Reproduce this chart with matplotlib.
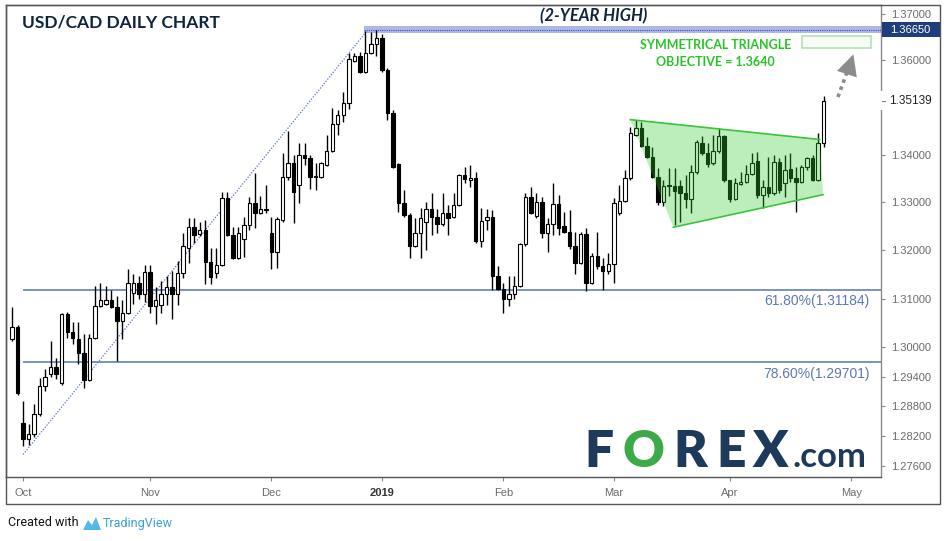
import numpy as np
import pandas as pd
import matplotlib
matplotlib.use('Agg')
import matplotlib.pyplot as plt
from matplotlib.patches import Rectangle, Polygon
from matplotlib.ticker import FixedLocator, FuncFormatter, NullLocator

plt.rcParams['font.family'] = ['Liberation Sans', 'DejaVu Sans']

# daily candles 27 Sep 2018 .. 24 Apr 2019 (no Dec 25 / Jan 1)
holidays = ['2018-12-25', '2019-01-01']
dates = pd.bdate_range('2018-09-27', '2019-04-24')
dates = dates[~dates.isin(pd.to_datetime(holidays))]

opens = [
    1.3017, 1.3041, 1.2846, 1.2814, 1.2824, 1.2865, 1.2921, 1.2946, 1.2960, 1.2927,
    1.3068, 1.3031, 1.3017, 1.2988, 1.2934, 1.3019, 1.3084, 1.3090, 1.3098, 1.3082,
    1.3055, 1.3070, 1.3111, 1.3132, 1.3109, 1.3155, 1.3086, 1.3088, 1.3109, 1.3124,
    1.3109, 1.3153, 1.3204, 1.3248, 1.3233, 1.3242, 1.3176, 1.3153, 1.3170, 1.3309,
    1.3231, 1.3185, 1.3223, 1.3252, 1.3299, 1.3278, 1.3286, 1.3235, 1.3197, 1.3263,
    1.3354, 1.3383, 1.3337, 1.3400, 1.3394, 1.3354, 1.3354, 1.3379, 1.3408, 1.3465,
    1.3484, 1.3510, 1.3598, 1.3609, 1.3575, 1.3615, 1.3636, 1.3647, 1.3579, 1.3489,
    1.3381, 1.3299, 1.3273, 1.3210, 1.3235, 1.3259, 1.3286, 1.3269, 1.3254, 1.3278,
    1.3269, 1.3295, 1.3358, 1.3347, 1.3351, 1.3219, 1.3263, 1.3269, 1.3147, 1.3121,
    1.3100, 1.3109, 1.3126, 1.3214, 1.3311, 1.3271, 1.3301, 1.3235, 1.3254, 1.3297,
    1.3250, 1.3238, 1.3210, 1.3174, 1.3233, 1.3132, 1.3189, 1.3168, 1.3157, 1.3172,
    1.3278, 1.3303, 1.3351, 1.3442, 1.3457, 1.3419, 1.3396, 1.3354, 1.3301, 1.3335,
    1.3335, 1.3335, 1.3320, 1.3307, 1.3364, 1.3425, 1.3404, 1.3383, 1.3408, 1.3440,
    1.3347, 1.3307, 1.3339, 1.3343, 1.3360, 1.3387, 1.3316, 1.3332, 1.3320, 1.3385,
    1.3341, 1.3370, 1.3351, 1.3343, 1.3375, 1.3392, 1.3347, 1.3425]
highs = [
    1.3082, 1.3045, 1.2891, 1.2844, 1.2885, 1.2938, 1.2956, 1.3013, 1.2978, 1.3070,
    1.3072, 1.3053, 1.3053, 1.3027, 1.3027, 1.3126, 1.3132, 1.3126, 1.3119, 1.3105,
    1.3098, 1.3162, 1.3151, 1.3147, 1.3170, 1.3170, 1.3124, 1.3136, 1.3147, 1.3157,
    1.3178, 1.3235, 1.3267, 1.3267, 1.3259, 1.3263, 1.3204, 1.3204, 1.3322, 1.3322,
    1.3248, 1.3248, 1.3269, 1.3311, 1.3362, 1.3314, 1.3337, 1.3269, 1.3269, 1.3404,
    1.3449, 1.3400, 1.3425, 1.3425, 1.3400, 1.3383, 1.3385, 1.3442, 1.3499, 1.3495,
    1.3533, 1.3615, 1.3615, 1.3617, 1.3664, 1.3660, 1.3665, 1.3657, 1.3584, 1.3495,
    1.3383, 1.3326, 1.3278, 1.3267, 1.3288, 1.3301, 1.3320, 1.3286, 1.3320, 1.3295,
    1.3320, 1.3360, 1.3375, 1.3379, 1.3364, 1.3288, 1.3286, 1.3284, 1.3168, 1.3132,
    1.3147, 1.3147, 1.3216, 1.3320, 1.3332, 1.3320, 1.3311, 1.3267, 1.3341, 1.3316,
    1.3280, 1.3284, 1.3238, 1.3238, 1.3246, 1.3195, 1.3238, 1.3185, 1.3195, 1.3309,
    1.3337, 1.3368, 1.3459, 1.3474, 1.3470, 1.3438, 1.3417, 1.3373, 1.3347, 1.3373,
    1.3373, 1.3347, 1.3358, 1.3379, 1.3432, 1.3440, 1.3425, 1.3442, 1.3457, 1.3442,
    1.3347, 1.3351, 1.3364, 1.3379, 1.3404, 1.3406, 1.3347, 1.3396, 1.3400, 1.3394,
    1.3400, 1.3404, 1.3375, 1.3379, 1.3396, 1.3400, 1.3446, 1.3525]
lows = [
    1.3013, 1.2903, 1.2800, 1.2802, 1.2818, 1.2860, 1.2911, 1.2940, 1.2936, 1.2923,
    1.3019, 1.3007, 1.2966, 1.2917, 1.2932, 1.3017, 1.3082, 1.3088, 1.3080, 1.2972,
    1.3017, 1.3068, 1.3090, 1.3100, 1.3094, 1.3070, 1.3049, 1.3070, 1.3088, 1.3059,
    1.3088, 1.3143, 1.3174, 1.3216, 1.3229, 1.3130, 1.3130, 1.3143, 1.3168, 1.3229,
    1.3183, 1.3183, 1.3187, 1.3242, 1.3246, 1.3276, 1.3278, 1.3162, 1.3164, 1.3259,
    1.3347, 1.3257, 1.3299, 1.3379, 1.3328, 1.3326, 1.3351, 1.3377, 1.3406, 1.3442,
    1.3468, 1.3497, 1.3596, 1.3573, 1.3573, 1.3613, 1.3609, 1.3575, 1.3474, 1.3373,
    1.3280, 1.3269, 1.3185, 1.3206, 1.3185, 1.3200, 1.3231, 1.3235, 1.3250, 1.3231,
    1.3267, 1.3292, 1.3341, 1.3332, 1.3216, 1.3206, 1.3242, 1.3119, 1.3117, 1.3070,
    1.3086, 1.3100, 1.3124, 1.3210, 1.3276, 1.3267, 1.3225, 1.3197, 1.3231, 1.3231,
    1.3235, 1.3202, 1.3151, 1.3172, 1.3115, 1.3130, 1.3162, 1.3119, 1.3151, 1.3132,
    1.3273, 1.3301, 1.3347, 1.3440, 1.3417, 1.3392, 1.3351, 1.3295, 1.3292, 1.3314,
    1.3252, 1.3259, 1.3288, 1.3278, 1.3360, 1.3400, 1.3375, 1.3379, 1.3404, 1.3343,
    1.3301, 1.3305, 1.3337, 1.3341, 1.3358, 1.3309, 1.3288, 1.3311, 1.3316, 1.3320,
    1.3311, 1.3343, 1.3280, 1.3341, 1.3368, 1.3345, 1.3345, 1.3417]
closes = [
    1.3041, 1.2907, 1.2814, 1.2824, 1.2865, 1.2921, 1.2940, 1.2960, 1.2946, 1.3068,
    1.3031, 1.3019, 1.2988, 1.2934, 1.3019, 1.3086, 1.3098, 1.3098, 1.3082, 1.3055,
    1.3070, 1.3132, 1.3132, 1.3109, 1.3155, 1.3086, 1.3098, 1.3109, 1.3124, 1.3109,
    1.3153, 1.3208, 1.3248, 1.3231, 1.3242, 1.3176, 1.3145, 1.3170, 1.3309, 1.3231,
    1.3185, 1.3235, 1.3252, 1.3299, 1.3278, 1.3286, 1.3284, 1.3197, 1.3265, 1.3354,
    1.3383, 1.3322, 1.3400, 1.3392, 1.3354, 1.3356, 1.3383, 1.3408, 1.3465, 1.3484,
    1.3510, 1.3603, 1.3609, 1.3575, 1.3615, 1.3636, 1.3647, 1.3579, 1.3489, 1.3375,
    1.3299, 1.3273, 1.3210, 1.3235, 1.3267, 1.3286, 1.3269, 1.3254, 1.3278, 1.3267,
    1.3295, 1.3358, 1.3349, 1.3351, 1.3219, 1.3261, 1.3269, 1.3147, 1.3121, 1.3100,
    1.3109, 1.3126, 1.3214, 1.3311, 1.3278, 1.3301, 1.3235, 1.3254, 1.3297, 1.3246,
    1.3238, 1.3210, 1.3174, 1.3233, 1.3132, 1.3189, 1.3168, 1.3157, 1.3172, 1.3299,
    1.3303, 1.3351, 1.3446, 1.3457, 1.3419, 1.3396, 1.3354, 1.3301, 1.3335, 1.3337,
    1.3324, 1.3320, 1.3307, 1.3364, 1.3427, 1.3404, 1.3381, 1.3408, 1.3440, 1.3347,
    1.3307, 1.3341, 1.3343, 1.3360, 1.3383, 1.3316, 1.3332, 1.3320, 1.3385, 1.3326,
    1.3368, 1.3351, 1.3343, 1.3375, 1.3394, 1.3347, 1.3425, 1.3514]

price_ticks = [1.37, 1.36, 1.34, 1.33, 1.32, 1.31, 1.30, 1.294, 1.288, 1.282, 1.276]
month_labels = ['Oct', 'Nov', 'Dec', '2019', 'Feb', 'Mar', 'Apr', 'May']
month_starts = ['2018-10-01', '2018-11-01', '2018-12-03', '2019-01-02',
                '2019-02-01', '2019-03-01', '2019-04-01', '2019-05-01']

fib_levels = [1.31184, 1.29701]
fib_labels = ['61.80%(1.31184)', '78.60%(1.29701)']
two_year_high = 1.3665
last_price = 1.35139
trend_x, trend_y = [2, 64.2], [1.2783, 1.3662]
tri_x = [112, 146.3, 146.9, 119.8]
tri_y = [1.3474, 1.3432, 1.3316, 1.3248]

W, H = 944, 541


def px(x, y):
    return x / W, 1 - y / H


fig = plt.figure(figsize=(W / 100, H / 100), dpi=100)
ax = fig.add_axes([6 / W, 1 - 477 / H, 875 / W, 472 / H])
ax.set_yscale('log')

x = np.arange(len(dates))
o, h, l, c = map(np.array, (opens, highs, lows, closes))
up = c >= o
lo = np.minimum(o, c)
hi = np.maximum(np.maximum(o, c), lo * 1.00005)

ax.vlines(x, l, h, color='black', lw=1, zorder=3)
ax.bar(x[up], (hi - lo)[up], bottom=lo[up], width=0.62, color='white',
       edgecolor='black', lw=0.8, zorder=4)
ax.bar(x[~up], (hi - lo)[~up], bottom=lo[~up], width=0.62, color='black',
       edgecolor='black', lw=0.8, zorder=4)

# fib retracement lines
for lev, lab in zip(fib_levels, fib_labels):
    ax.hlines(lev, 2, 200, color='#7891c4', lw=1.4, zorder=2)
    ax.text(155.4, lev * 0.9993, lab, ha='right', va='top', color='#5c7ab3',
            fontsize=10, zorder=6)

# dotted trend line
ax.plot(trend_x, trend_y, color='#5677c2', lw=0.9, ls=(0, (1, 1.3)), zorder=2)

# 2-year high band
ax.axhspan(1.36595, 1.36728, xmin=(63.7 + 1.09) / 158.49, xmax=1,
           color='#aeb8e8', zorder=2, lw=0)
ax.hlines(two_year_high, 63.7, 200, color='#3e4fa8', lw=0.8, ls=(0, (1, 1)), zorder=2)

# triangle
ax.add_patch(Polygon(list(zip(tri_x, tri_y)), closed=True,
                     facecolor=(0.2, 0.8, 0.2, 0.33), edgecolor='none', zorder=5))
ax.plot(tri_x[:2], tri_y[:2], color='#3cc23c', lw=1.2, zorder=6)
ax.plot(tri_x[2:], tri_y[2:], color='#3cc23c', lw=1.2, zorder=6)

# objective box + arrow
ax.add_patch(Rectangle((143.1, 1.3626), 12.5, 0.00272, facecolor='#f6fbf6',
                       edgecolor='#b8deb8', lw=1.2, zorder=5))
ax.plot([149.6, 151.7], [1.3522, 1.3590], color='#8c8c8c', lw=2.6,
        ls=(0, (1, 1.1)), zorder=6)
ax.annotate('', xy=(152.4, 1.3613), xytext=(151.9, 1.3595),
            arrowprops=dict(arrowstyle='-|>,head_length=1.0,head_width=0.5',
                            color='#8c8c8c', lw=0, shrinkA=0, shrinkB=0,
                            mutation_scale=15), zorder=6)
ax.text(127.4, 1.3634, 'SYMMETRICAL TRIANGLE', ha='center', va='center',
        color='#26c426', fontsize=9, fontweight='bold', family='Lato', zorder=6)
ax.text(127.4, 1.3596, 'OBJECTIVE = 1.3640', ha='center', va='center',
        color='#26c426', fontsize=9, fontweight='bold', family='Lato', zorder=6)

ax.set_xlim(-1.09, 157.4)
ax.set_ylim(1.2738, 1.3719)

# axes / ticks
ax.yaxis.tick_right()
ax.yaxis.set_major_locator(FixedLocator(price_ticks))
ax.yaxis.set_minor_locator(NullLocator())
ax.yaxis.set_major_formatter(FuncFormatter(lambda v, p: '%.5f' % v))
ax.tick_params(axis='y', length=3, width=0.8, color='#888888', labelcolor='#6b6b6b',
               labelsize=8, pad=4)
tick_pos = [np.busday_count('2018-09-27', d, holidays=holidays) for d in month_starts]
ax.set_xticks(tick_pos)
ax.set_xticklabels(month_labels)
ax.tick_params(axis='x', length=3, width=0.8, color='#888888', labelcolor='#6b6b6b',
               labelsize=8, pad=5)
ax.get_xticklabels()[3].set_fontweight('bold')
ax.get_xticklabels()[3].set_color('#333333')
for s in ax.spines.values():
    s.set_color('#555555')
    s.set_linewidth(1)
ax.spines['right'].set_color('#8a8a8a')

# outer frame
fx0, fy0 = px(6, 504)
fx1, fy1 = px(940, 5)
fig.patches.append(Rectangle((fx0, fy0), fx1 - fx0, fy1 - fy0, transform=fig.transFigure,
                             fill=False, edgecolor='#555555', lw=1, zorder=10))

# price labels on the scale
bx, by = px(882, 37)
fig.patches.append(Rectangle((bx, by), 58 / W, 15 / H, transform=fig.transFigure,
                             facecolor='#1f3d7c', edgecolor='none', zorder=11))
fig.text(*px(890, 30), '1.36650', color='white', fontsize=8, va='center', zorder=12)
bx, by = px(879, 110)
fig.patches.append(Rectangle((bx, by), 58 / W, 19 / H, transform=fig.transFigure,
                             facecolor='white', edgecolor='none', zorder=11))
fig.lines.append(plt.Line2D([882 / W, 885 / W], [1 - 101 / H] * 2, transform=fig.transFigure,
                            color='#888888', lw=0.8, zorder=12))
fig.text(*px(889, 101), '1.35139', color='#222222', fontsize=8.5, va='center', zorder=12)

# titles
fig.text(*px(22, 22), 'USD/CAD DAILY CHART', family='Lato', fontweight='bold',
         fontsize=12.5, color='#10233f', va='center')
fig.text(*px(594, 16), '(2-YEAR HIGH)', family='Lato', fontweight='bold', style='italic',
         fontsize=12, color='#10233f', ha='center', va='center')

# FOREX.com logo
navy, green = '#1d3a5a', '#3daa4a'
for letter, xc, col in [('F', 599, navy), ('O', 643, green), ('R', 690, navy),
                        ('E', 731, navy), ('X', 770, navy)]:
    fig.text(*px(xc, 467), letter, family='Lato', fontweight='heavy', fontsize=37,
             color=col, ha='center', va='baseline')
fig.text(*px(792, 467), '.com', family='Lato', fontweight='bold', fontsize=25,
         color=navy, ha='left', va='baseline')

# footer
fig.text(*px(8, 523), 'Created with', fontsize=9, color='#111111', va='center',
         family='Roboto')
logo = [px(83, 530), px(88, 520), px(92, 525), px(96, 517), px(101, 530)]
fig.patches.append(Polygon(logo, closed=True, transform=fig.transFigure,
                           facecolor='#55b8e8', edgecolor='none'))
fig.text(*px(103, 523), 'TradingView', fontsize=9, color='#3b9fd8', va='center',
         family='Roboto')

fig.savefig('out.png', dpi=100)
